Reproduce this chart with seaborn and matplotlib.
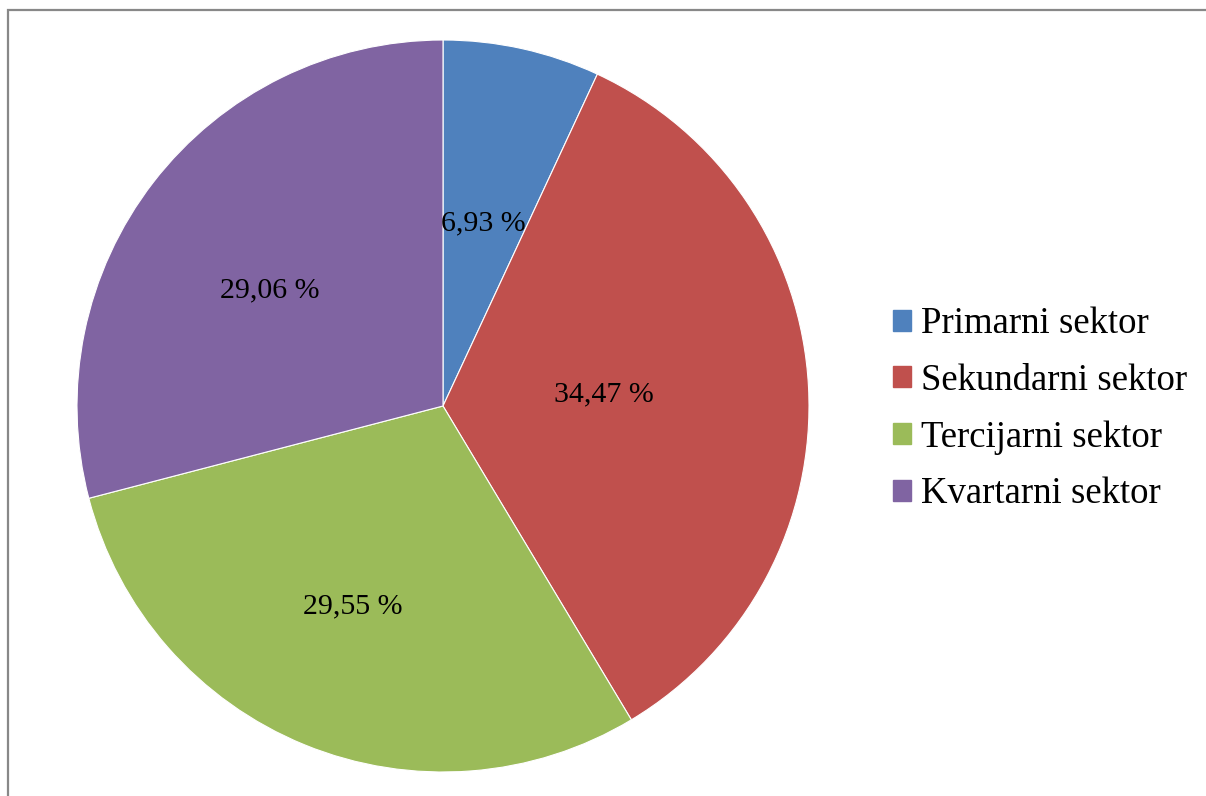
import matplotlib
matplotlib.use("Agg")
import math
import matplotlib.pyplot as plt
import matplotlib.patches as mpatches
import seaborn as sns

sektori = ["Primarni sektor", "Sekundarni sektor", "Tercijarni sektor", "Kvartarni sektor"]
udjeli = [6.93, 34.47, 29.55, 29.06]
boje = ["#4F81BD", "#C0504D", "#9BBB59", "#8064A2"]

sns.set_theme(style="white", rc={"axes.facecolor": "white", "figure.facecolor": "white",
                                 "text.color": "black"})
plt.rcParams["font.family"] = ["Liberation Serif", "DejaVu Serif"]

fig = plt.figure(figsize=(12.06, 7.96), dpi=100)
ax = fig.add_axes([77 / 1206, 24 / 796, 732 / 1206, 732 / 796])

wedges, texts, autotexts = ax.pie(
    udjeli, colors=sns.color_palette(boje), startangle=90, counterclock=False,
    autopct=lambda p: f"{p:.2f} %".replace(".", ","), pctdistance=0.55,
    wedgeprops=dict(edgecolor="white", linewidth=0.8),
    textprops=dict(fontsize=21.5, color="black"))

# label placement like the original (radius, angle shift in degrees)
dist = [0.51, 0.44, 0.60, 0.57]
shift = [0, 1, -2, 4]
for t, d, s in zip(autotexts, dist, shift):
    x, y = t.get_position()
    a = math.atan2(y, x) + math.radians(s)
    t.set_position((d * math.cos(a), d * math.sin(a)))

ax.set_xlim(-1, 1)
ax.set_ylim(-1, 1)
ax.set_aspect("auto")

handles = [mpatches.Patch(color=c, label=s) for c, s in zip(boje, sektori)]
fig.legend(handles=handles, loc="center left", bbox_to_anchor=(893 / 1206, 1 - 409 / 796),
           frameon=False, fontsize=26.5, handlelength=0.5, handleheight=0.5,
           handletextpad=0.25, labelspacing=0.6, borderpad=0, borderaxespad=0,
           labelcolor="black")

# chart area frame (cut on right and bottom)
fig.add_artist(mpatches.Rectangle((8 / 1206, -0.2), 1.2, 1.2 - 10 / 796,
                                  transform=fig.transFigure, fill=False,
                                  edgecolor="#888888", linewidth=1.6, clip_on=False))

plt.savefig("out.png", dpi=100)
